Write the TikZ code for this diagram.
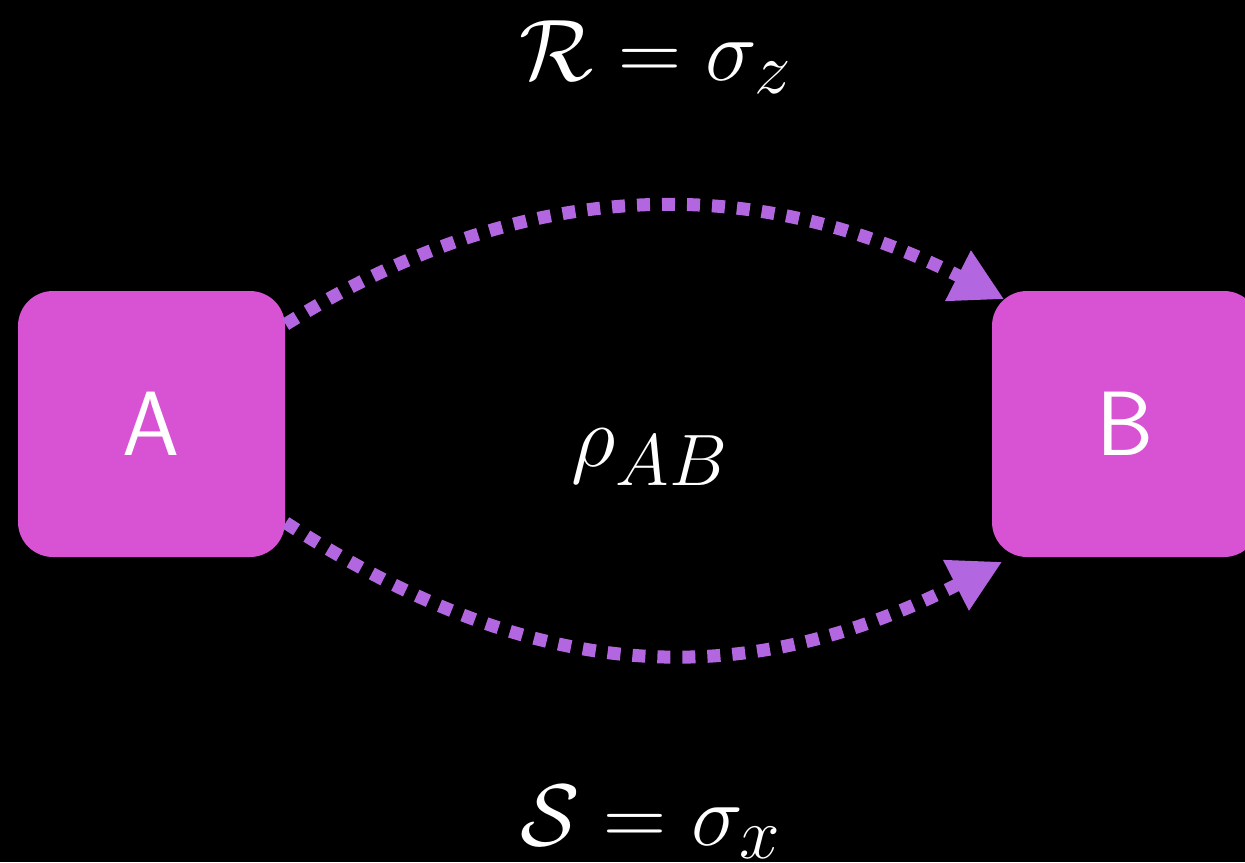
\documentclass[tikz,border=0pt]{standalone}
\usetikzlibrary{arrows.meta}
\definecolor{boxpink}{RGB}{216,82,212}
\definecolor{arcpurple}{RGB}{178,102,224}
\begin{document}
\begin{tikzpicture}[font=\fontsize{28}{34}\selectfont, >={Triangle[length=0.52cm,width=0.53cm]},
        party/.style={fill=boxpink, rounded corners=0.35cm, minimum width=2.67cm, minimum height=2.66cm,
            text=white, font=\sffamily\fontsize{26}{32}\selectfont},
        channel/.style={->, draw=arcpurple, line width=0.13cm, dash pattern=on 0.13cm off 0.12cm},
        lbl/.style={text=white, anchor=base}]
        \fill[black] (0,0) rectangle (12.45,8.62);
        \clip (0,0) rectangle (12.45,8.62);
        \node[party] (A) at (1.515,4.38) {A};
        \node[party] (B) at (11.255,4.38) {B};
        \draw[channel] ([yshift=-0.34cm]A.north east) to[out=32, in=153] ([shift={(0.13,-0.09)}]B.north west);
        \draw[channel] ([yshift=0.35cm]A.south east) to[out=-33, in=-153, looseness=1.05] ([shift={(0.11,-0.04)}]B.south west);
        \node[lbl] (rz) at (6.56,7.82) {$\mathcal{R}=\sigma_z$};
        \node[lbl, font=\fontsize{32}{38}\selectfont] (rho) at (6.50,3.96) {$\rho_{AB}$};
        \node[lbl] (sx) at (6.51,0.17) {$\mathcal{S}=\sigma_x$};
    \end{tikzpicture}
\end{document}
